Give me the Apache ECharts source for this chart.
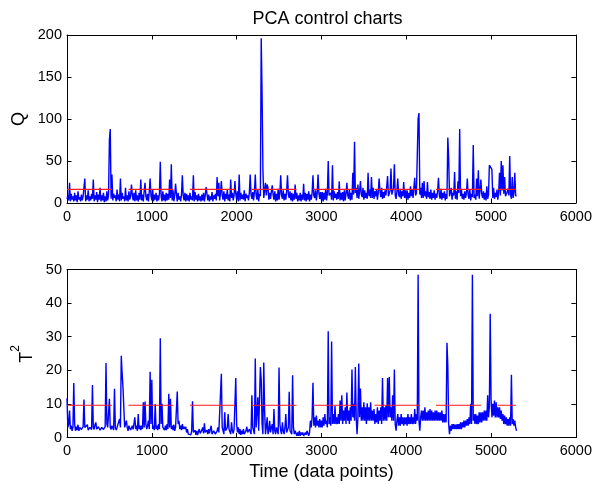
<!DOCTYPE html>
<html>
<head>
<meta charset="utf-8">
<script src="https://cdn.jsdelivr.net/npm/echarts@6/dist/echarts.min.js"></script>
<style>
html,body{margin:0;padding:0;background:#fff;}
#chart{width:595px;height:484px;}
</style>
</head>
<body>
<div id="chart"></div>
<script>
// Sample spacing (data points per stored value)
const sampleStep = 10;

// Q statistic, one value every 10 data points starting at 0
const qValues = [
  5,9,3,24,2,11,4,8,2,12, 3,9,1,14,4,7,2,10,3,8,
  6,29,2,9,4,15,2,8,3,11, 5,28,2,9,4,13,1,10,4,18,
  2,9,3,12,1,8,2,14,3,10, 75,88,5,34,3,11,6,9,2,16,
  4,10,2,29,3,12,5,8,2,18, 3,9,2,14,4,8,22,10,3,12,
  2,15,3,9,2,12,4,28,3,10, 2,14,24,8,3,11,2,13,29,9,
  3,16,2,10,4,12,2,9,3,11, 49,8,2,14,3,10,2,12,3,11,
  4,28,6,46,3,15,2,9,23,11, 2,12,4,8,2,10,33,9,3,12,
  2,11,3,9,2,12,4,8,3,33, 2,13,4,9,2,11,3,8,2,10,
  3,12,2,9,19,11,3,10,2,8, 4,13,2,9,5,11,3,31,8,24,
  3,12,26,9,4,14,2,11,5,16, 3,10,2,28,6,12,3,9,26,11,
  4,14,2,34,3,12,5,10,4,15, 2,11,6,9,3,12,34,10,5,13,
  3,13,34,9,4,16,2,11,8,196, 131,40,6,15,24,9,22,18,4,12,
  5,14,21,10,4,14,2,11,3,17, 4,12,33,9,5,15,3,11,4,14,
  33,10,6,14,3,12,2,11,4,22, 5,12,2,9,3,12,2,10,4,23,
  3,12,2,11,4,14,2,10,4,12, 33,9,6,15,3,11,34,12,5,13,
  3,13,2,12,4,17,3,11,50,9, 8,12,4,45,3,14,6,11,4,13,
  5,26,3,12,4,13,2,15,3,11, 24,9,5,16,3,12,4,36,10,73,
  12,18,6,22,5,14,26,10,7,18, 4,15,6,12,5,36,8,16,6,31,
  6,18,5,14,8,16,4,12,29,15, 7,18,5,13,6,15,9,20,32,8,
  6,15,41,10,8,18,46,9,5,14, 29,10,7,17,5,14,8,25,6,15,
  5,15,4,12,6,20,8,16,6,18, 30,9,12,14,100,107,10,18,6,24,
  6,26,8,14,5,25,7,13,5,16, 4,12,6,15,4,11,6,14,30,9,
  5,17,4,12,6,14,3,11,5,78, 54,8,6,18,4,12,9,37,5,14,
  4,26,12,88,8,17,5,11,4,14, 6,12,29,9,5,16,3,11,7,69,
  6,10,4,29,8,39,5,15,28,11, 6,14,4,12,3,20,5,10,45,44,
  45,40,6,18,5,12,7,16,4,14, 36,9,50,15,45,11,31,8,6,13,
  17,9,56,10,5,31,6,12,36,9,8
];

// Hotelling T^2 statistic, one value every 10 data points starting at 0
const t2Values = [
  11.7,3,4,8,2.5,3.5,2,3,16.2,4, 2,3.2,2.2,3.8,2,3,3.5,2.4,2.2,3.2,
  11.3,3,2.5,3.5,3.8,2.2,2,3,3.2,2.4, 15.6,3,2.4,3.8,4.5,2.5,2.2,3.2,3.4,2.2,
  2,3,3,2.4,2.5,3.2,22.2,4,3,2.5, 11.5,3,2.4,3.5,3.8,2.2,14.5,3,2.2,3,
  3.5,2.5,5.5,3,24.3,19,15,14.5,3,2.5, 5,3,2,3.5,3.2,2.2,2.4,3.5,2.4,2,
  6,2.5,3.5,2,7,2.5,3.5,2.2,3.5,2.5, 10.5,3,10.7,4,2.5,3.5,5,2.5,19.6,4,
  17.2,2.5,3.5,2.2,10,2.5,3.5,2.2,4,2.5, 29.5,4,10,3,3.5,2.2,3.5,2.2,4,2.5,
  13,3,11.5,2.5,3.5,2.2,3.8,2,3,2.5, 13.7,4,5,2.5,3.5,2.2,4,2.5,3.2,2.5,
  3.2,1.5,2.5,1,0.5,1.5,0.8,2,10.8,1.5, 1,2.2,0.8,2,0.7,1.8,2.5,1.2,0.8,2.2,
  3,1.2,4.2,1.5,1,2.2,1,2.5,1.2,2.5, 3.5,1,0.8,2,2.2,1,0.8,2,3,1.5,
  1.5,2,19,3,2,1,7.5,2,1.5,3, 7,2.5,2,1,4.5,2,1.2,2.5,3,17.7,
  4,1.5,3,1,2.5,0.8,2,1,2.5,1, 0.8,2,3.2,1.5,1.2,2.5,2.5,1,12.6,3,
  2,1,23.5,3,3,12,2,2,21,17.2, 4,1,22.3,8,1,3,6,1,2,5,
  1.5,3,4,1,8.5,2,1,3,3,1, 20.8,4,2,1,4.5,2,1,3,7,1.5,
  1.5,3,13.6,2,2,1,18.5,3,1,2, 2.5,0.5,1.5,0.5,2,0.5,1.5,0.8,1.5,0.5,
  0.5,1.5,0.8,2,1.5,0.5,1.5,5,3,6, 16.3,3.5,6,3,6.5,3.5,5,3,5.5,3,
  5,3,6,3.5,7,4,5,3,31.6,4, 6,3.5,28.6,4,7,4,9.4,4,6,4,
  7,4,11,5,12.6,4,8,5,9,4, 13.4,5,8,4,9,5,20.2,6,10,5,
  21,6,1,6,22,6,14.6,5,9,5, 10.5,5,9,4,10.2,5,9,5,10.5,5,
  8,5,8.5,4,7,4.5,9,4,8,5, 9,4,17.7,5,9,5,9.5,5,17.7,6,
  18,6,9,5,12.6,5,20.2,4,2,5, 7,3.5,6,3.5,7,4,6,3.5,6,4,
  6,3.5,7,4,6,4,7,4,6,4, 8.5,4,7,5,48.4,5,2,6,8,5,
  8,5,9,5,7.5,5,8,5,8.5,5, 8,5,7.5,5,8,5,8,5,7.5,5,
  7.5,5,8,4.5,7,4.5,7,4.5,28.2,21.5, 4,1,3.5,2,4,2.5,4,2.5,3.8,2.5,
  4,2.5,4,2.5,4.5,2.5,4.5,3,5,3, 5,3.5,5.5,3.5,6,4,10,4,48.4,5,
  7,4,7,4,6.5,4,7.5,4.5,7.5,4.5, 7.5,5,8,5,8,5,12.6,6,9,36.8,
  11.5,6,10,6.5,11,6,10.5,6,9,6, 9,5.5,8,5,7,4,6.5,4,6,3.5,
  5.5,3.5,6,3.5,18.7,4,5.5,3.5,5,3,2
];

// Control limits and their extent (data points)
const qLimit = 16.3;
const t2Limit = 9.6;
const limitRange = [0, 5293];

// Axis ticks
const xTicks = [0, 1000, 2000, 3000, 4000, 5000, 6000];
const qTicks = [0, 50, 100, 150, 200];
const t2Ticks = [0, 10, 20, 30, 40, 50];

const titleText = 'PCA control charts';
const xLabelText = 'Time (data points)';
const qLabelText = 'Q';

const toPairs = arr => arr.map((v, i) => [i * sampleStep, v]);
const limitPairs = v => limitRange.map(x => [x, v]);

const FONT = '"Liberation Sans", Arial, sans-serif';
const tickLen = 4.5;
const plain = v => String(v);

function xAx(gridIndex, position, labels) {
  return {
    type: 'value', gridIndex, position,
    min: xTicks[0], max: xTicks[xTicks.length - 1],
    interval: xTicks[1] - xTicks[0],
    axisLine: { show: true, onZero: false, lineStyle: { color: '#000', width: 1 } },
    axisTick: { show: true, inside: true, length: tickLen, lineStyle: { color: '#000' } },
    axisLabel: { show: labels, color: '#000', fontSize: 14.5, fontFamily: FONT, margin: 6, formatter: plain },
    splitLine: { show: false }
  };
}
function yAx(gridIndex, position, ticks, labels) {
  return {
    type: 'value', gridIndex, position,
    min: ticks[0], max: ticks[ticks.length - 1],
    interval: ticks[1] - ticks[0],
    axisLine: { show: true, onZero: false, lineStyle: { color: '#000', width: 1 } },
    axisTick: { show: true, inside: true, length: tickLen, lineStyle: { color: '#000' } },
    axisLabel: { show: labels, color: '#000', fontSize: 14.5, fontFamily: FONT, margin: 5, formatter: plain },
    splitLine: { show: false }
  };
}

const chart = echarts.init(document.getElementById('chart'), null, { renderer: 'canvas' });
chart.setOption({
  animation: false,
  backgroundColor: '#fff',
  title: {
    text: titleText, left: 322.5, top: 5, textAlign: 'center',
    textStyle: { fontFamily: FONT, fontSize: 18, fontWeight: 'normal', color: '#000' }
  },
  grid: [
    { left: 67, top: 35, width: 511, height: 168, containLabel: false },
    { left: 67, top: 269.5, width: 511, height: 168, containLabel: false }
  ],
  xAxis: [
    xAx(0, 'bottom', true),
    xAx(0, 'top', false),
    Object.assign(xAx(1, 'bottom', true), {
      name: xLabelText, nameLocation: 'middle', nameGap: 26,
      nameTextStyle: { fontFamily: FONT, fontSize: 18, color: '#000' }
    }),
    xAx(1, 'top', false)
  ],
  yAxis: [
    yAx(0, 'left', qTicks, true),
    yAx(0, 'right', qTicks, false),
    yAx(1, 'left', t2Ticks, true),
    yAx(1, 'right', t2Ticks, false)
  ],
  graphic: [
    {
      type: 'text', x: 19.2, y: 119, rotation: Math.PI / 2,
      style: { text: qLabelText, font: '18px ' + FONT, fill: '#000', align: 'center', verticalAlign: 'middle' }
    },
    {
      type: 'text', x: 22.7, y: 354, rotation: Math.PI / 2,
      style: {
        text: '{a|T}{s|2}', fill: '#000', align: 'center', verticalAlign: 'middle',
        rich: {
          a: { fontFamily: FONT, fontSize: 18, fill: '#000', verticalAlign: 'bottom' },
          s: { fontFamily: FONT, fontSize: 12, fill: '#000', verticalAlign: 'top', padding: [0, 0, 14, 0] }
        }
      }
    }
  ],
  series: [
    {
      type: 'line', xAxisIndex: 0, yAxisIndex: 0, data: toPairs(qValues),
      showSymbol: false, sampling: null, smooth: false, lineStyle: { color: '#0000ff', width: 1.4 }, z: 2
    },
    {
      type: 'line', xAxisIndex: 2, yAxisIndex: 2, data: toPairs(t2Values),
      showSymbol: false, sampling: null, smooth: false, lineStyle: { color: '#0000ff', width: 1.4 }, z: 2
    },
    {
      type: 'line', xAxisIndex: 0, yAxisIndex: 0, data: limitPairs(qLimit),
      showSymbol: false, lineStyle: { color: '#ff1a1a', width: 1.2, type: [45, 16.5] }, z: 5, zlevel: 1
    },
    {
      type: 'line', xAxisIndex: 2, yAxisIndex: 2, data: limitPairs(t2Limit),
      showSymbol: false, lineStyle: { color: '#ff1a1a', width: 1.2, type: [45, 16.5] }, z: 5, zlevel: 1
    }
  ]
});
</script>
</body>
</html>
